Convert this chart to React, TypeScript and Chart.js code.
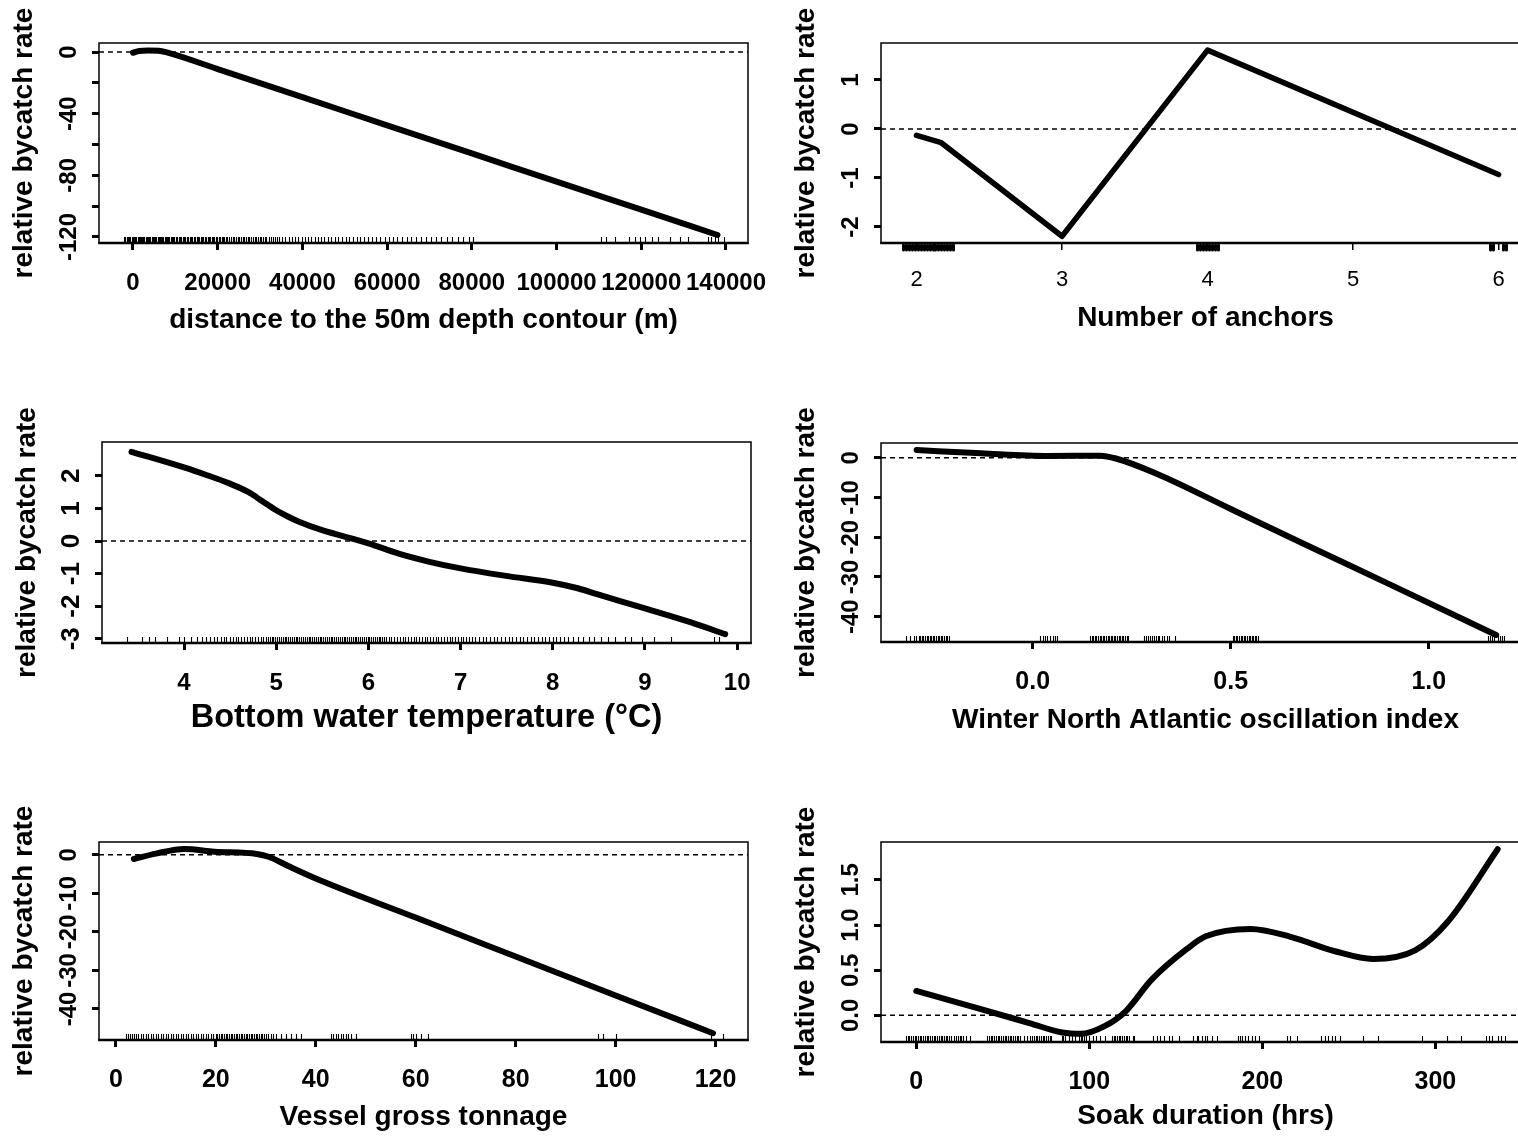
import React, { useEffect, useRef } from "react";
import { Chart, registerables } from "chart.js";

Chart.register(...registerables);

const FAMILY = '"Liberation Sans", Arial, Helvetica, sans-serif';
const Y_TITLE = "relative bycatch rate";

// ---------- Panel 1: distance to 50 m depth contour ----------
const distX = [0, 1500, 3500, 6000, 8600, 20000, 40000, 60000, 80000, 100000, 120000, 138000];
const distY = [-0.5, 0.6, 1.0, 0.8, -0.7, -11.1, -29.3, -47.6, -65.8, -84.1, -102.3, -118.7];
const distRug = [-2100, -1800, -1500, -1200, -900, -600, -300, 0, 250, 500, 800, 1100, 1350, 1600, 1900, 2200, 2450, 2700, 3000, 3300, 3550, 3800, 4100, 4400, 4650, 4900, 5200, 5500, 5800, 6050, 6300, 6600, 6900, 7200, 7450, 7700, 8000, 8300, 8600, 8900, 9200, 9500, 9800, 10100, 10450, 10800, 11100, 11400, 11750, 12100, 12400, 12700, 13050, 13400, 13700, 14000, 14350, 14700, 15000, 15300, 15650, 16000, 16300, 16600, 16950, 17300, 17600, 17900, 18250, 18600, 18900, 19200, 19550, 19900, 20200, 20550, 20900, 21250, 21600, 21950, 22300, 22700, 23100, 23500, 23900, 24300, 24700, 25100, 25500, 25900, 26300, 26700, 27100, 27500, 27900, 28300, 28700, 29100, 29500, 29900, 30300, 30700, 31100, 31500, 32000, 32500, 33000, 33500, 34000, 34500, 35200, 36000, 36800, 37500, 38300, 39000, 39800, 40600, 41300, 42100, 42900, 43600, 44400, 45200, 46000, 46800, 47600, 48400, 49300, 50200, 51000, 51900, 52800, 53700, 54600, 55500, 56400, 57400, 58400, 59400, 60400, 61400, 62400, 63500, 64600, 65700, 66800, 68000, 69200, 70400, 71600, 72800, 74100, 75400, 76700, 78000, 79300, 80200, 110400, 111600, 113900, 117100, 118500, 119800, 121000, 122600, 123900, 126800, 129200, 131000, 135700, 136500, 137400, 138200, 139500];
const distXTicks = [0, 20000, 40000, 60000, 80000, 100000, 120000, 140000];
const distXLabels = ["0", "20000", "40000", "60000", "80000", "100000", "120000", "140000"];
const distYTicks = [0, -20, -40, -60, -80, -100, -120];
const distYLabels = ["0", "", "-40", "", "-80", "", "-120"];

// ---------- Panel 2: number of anchors ----------
const anchX = [2, 2.17, 3, 4, 6];
const anchY = [-0.13, -0.28, -2.19, 1.61, -0.93];
const anchRug = [1.91, 1.93, 1.95, 1.97, 1.99, 2.01, 2.03, 2.05, 2.07, 2.09, 2.11, 2.13, 2.15, 2.17, 2.19, 2.21, 2.23, 2.25, 3.93, 3.95, 3.97, 3.99, 4.01, 4.03, 4.05, 4.07, 5.94, 5.96, 6.03, 6.05];
const anchXTicks = [2, 3, 4, 5, 6];
const anchXLabels = ["2", "3", "4", "5", "6"];
const anchYTicks = [1, 0, -1, -2];
const anchYLabels = ["1", "0", "-1", "-2"];

// ---------- Panel 3: bottom water temperature ----------
const tempX = [3.43, 4.0, 4.25, 4.49, 4.7, 4.85, 4.99, 5.12, 5.24, 5.49, 6.0, 6.32, 6.65, 7.0, 7.49, 8.0, 8.27, 8.48, 9.0, 9.5, 9.87];
const tempY = [2.74, 2.26, 2.02, 1.77, 1.5, 1.22, 0.96, 0.76, 0.6, 0.34, -0.07, -0.38, -0.63, -0.84, -1.07, -1.28, -1.45, -1.63, -2.07, -2.5, -2.86];
const tempRug = [3.38, 3.54, 3.62, 3.68, 3.81, 3.95, 4.0, 4.08, 4.14, 4.2, 4.24, 4.28, 4.32, 4.36, 4.4, 4.43, 4.46, 4.5, 4.53, 4.56, 4.59, 4.62, 4.65, 4.68, 4.71, 4.74, 4.77, 4.8, 4.83, 4.86, 4.89, 4.91, 4.93, 4.95, 4.97, 4.99, 5.01, 5.03, 5.05, 5.07, 5.09, 5.11, 5.13, 5.15, 5.17, 5.19, 5.21, 5.23, 5.25, 5.27, 5.29, 5.31, 5.33, 5.35, 5.37, 5.39, 5.41, 5.43, 5.45, 5.47, 5.49, 5.51, 5.53, 5.55, 5.57, 5.59, 5.61, 5.63, 5.65, 5.67, 5.69, 5.71, 5.73, 5.75, 5.77, 5.79, 5.81, 5.83, 5.85, 5.87, 5.89, 5.91, 5.93, 5.95, 5.97, 5.99, 6.01, 6.03, 6.05, 6.07, 6.09, 6.11, 6.13, 6.15, 6.17, 6.19, 6.22, 6.25, 6.28, 6.31, 6.34, 6.37, 6.4, 6.43, 6.46, 6.49, 6.52, 6.55, 6.58, 6.61, 6.64, 6.67, 6.7, 6.73, 6.76, 6.79, 6.82, 6.85, 6.88, 6.91, 6.94, 6.97, 7.0, 7.03, 7.06, 7.09, 7.12, 7.16, 7.2, 7.24, 7.28, 7.32, 7.36, 7.4, 7.44, 7.48, 7.52, 7.56, 7.6, 7.64, 7.68, 7.72, 7.76, 7.8, 7.84, 7.88, 7.92, 7.96, 8.0, 8.04, 8.08, 8.12, 8.17, 8.22, 8.27, 8.33, 8.39, 8.45, 8.52, 8.6, 8.68, 8.78, 8.85, 8.97, 9.1, 9.28, 9.75, 9.8];
const tempXTicks = [4, 5, 6, 7, 8, 9, 10];
const tempXLabels = ["4", "5", "6", "7", "8", "9", "10"];
const tempYTicks = [2, 1, 0, -1, -2, -3];
const tempYLabels = ["2", "1", "0", "-1", "-2", "-3"];

// ---------- Panel 4: winter NAO index ----------
const naoX = [-0.293, -0.13, 0.04, 0.17, 0.21, 0.31, 0.5, 0.7, 0.9, 1.17];
const naoY = [1.94, 1.1, 0.43, 0.5, -0.2, -3.9, -12.9, -22.4, -31.8, -44.6];
const naoRug = [-0.32, -0.31, -0.3, -0.294, -0.288, -0.284, -0.28, -0.276, -0.272, -0.268, -0.264, -0.26, -0.256, -0.252, -0.248, -0.244, -0.24, -0.236, -0.232, -0.228, -0.224, -0.22, -0.216, -0.212, 0.018, 0.026, 0.03, 0.036, 0.044, 0.05, 0.056, 0.062, 0.145, 0.149, 0.153, 0.157, 0.161, 0.165, 0.169, 0.173, 0.177, 0.181, 0.185, 0.189, 0.193, 0.197, 0.201, 0.205, 0.209, 0.213, 0.217, 0.221, 0.225, 0.229, 0.233, 0.237, 0.24, 0.28, 0.286, 0.292, 0.296, 0.3, 0.306, 0.312, 0.316, 0.32, 0.326, 0.332, 0.338, 0.345, 0.36, 0.505, 0.509, 0.513, 0.517, 0.521, 0.525, 0.529, 0.533, 0.537, 0.541, 0.545, 0.549, 0.553, 0.557, 0.561, 0.565, 0.57, 1.15, 1.155, 1.16, 1.165, 1.175, 1.18, 1.185, 1.19];
const naoXTicks = [0, 0.5, 1];
const naoXLabels = ["0.0", "0.5", "1.0"];
const naoYTicks = [0, -10, -20, -30, -40];
const naoYLabels = ["0", "-10", "-20", "-30", "-40"];

// ---------- Panel 5: vessel gross tonnage ----------
const tonX = [3.6, 8, 13.7, 19.7, 28.2, 30.7, 34.6, 40.6, 60, 80, 100, 119.5];
const tonY = [-1.1, 0.3, 1.5, 0.8, 0.2, -0.6, -3.0, -6.5, -16.3, -26.4, -36.5, -46.3];
const tonRug = [2, 2.4, 2.8, 3.2, 3.6, 4, 4.5, 5, 5.5, 6, 6.5, 7, 7.5, 8, 8.5, 9, 9.5, 10, 10.5, 11, 11.5, 12, 12.5, 13, 13.5, 14, 14.5, 15, 15.5, 16, 16.5, 17, 17.5, 18, 18.5, 19, 19.5, 20, 20.3, 20.6, 21, 21.3, 21.6, 22, 22.3, 22.6, 23, 23.3, 23.6, 24, 24.3, 24.6, 25, 25.3, 25.6, 26, 26.3, 26.6, 27, 27.3, 27.6, 28, 28.3, 28.6, 29, 29.3, 29.6, 30, 30.5, 31, 31.5, 32, 33, 34, 35, 36, 37, 43, 43.5, 44, 44.5, 45, 45.5, 46, 46.5, 47, 48, 59, 59.5, 60, 61, 62.5, 96.5, 97.5, 100, 119, 121.4];
const tonXTicks = [0, 20, 40, 60, 80, 100, 120];
const tonXLabels = ["0", "20", "40", "60", "80", "100", "120"];
const tonYTicks = [0, -10, -20, -30, -40];
const tonYLabels = ["0", "-10", "-20", "-30", "-40"];

// ---------- Panel 6: soak duration ----------
const soakX = [0, 35.3, 65.3, 84.3, 95.1, 108.8, 121, 136, 156.4, 167.3, 193.2, 216.3, 242, 264, 288.3, 307.3, 336];
const soakY = [0.27, 0.08, -0.085, -0.19, -0.205, -0.12, 0.045, 0.395, 0.735, 0.875, 0.957, 0.87, 0.71, 0.625, 0.72, 1.04, 1.84];
const soakRug = [-6, -5, -4, -3, -2, -1, 0, 1, 2, 3, 4, 5, 6, 7, 8, 9, 10, 11, 12, 13, 14, 15, 16, 17, 18, 19, 20, 22, 23, 24, 25, 26, 27, 29, 31, 41, 42, 43, 44, 45, 46, 47, 48, 49, 50, 51, 52, 53, 54, 55, 56, 57, 58, 59, 60, 62, 64, 66, 67, 68, 69, 70, 71, 72, 73, 74, 75, 76, 77, 78, 84, 85, 86, 88, 90, 92, 94, 95, 96, 97, 98, 100, 102, 104, 106, 109, 113, 114, 115, 116, 117, 118, 119, 120, 121, 122, 123, 125, 126, 137, 139, 141, 143, 146, 148, 152, 160, 162, 163, 165, 167, 168, 171, 174, 186, 187, 188, 190, 192, 194, 196, 198, 214, 216, 220, 234, 236, 238, 240, 242, 245, 258, 267, 292, 307, 315, 329, 331, 333, 336, 338, 340];
const soakXTicks = [0, 100, 200, 300];
const soakXLabels = ["0", "100", "200", "300"];
const soakYTicks = [0, 0.5, 1, 1.5];
const soakYLabels = ["0.0", "0.5", "1.0", "1.5"];

type Panel = {
  id: string;
  box: { L: number; T: number; R: number; B: number };
  padRight: number;
  xRange: [number, number];
  yRange: [number, number];
  xs: number[];
  ys: number[];
  rug: number[];
  xTicks: number[];
  xLabels: string[];
  yTicks: number[];
  yLabels: string[];
  xTitle: string;
  xTitleSize: number;
  xTitleBase: number;
  smooth: boolean;
  lineWidth: number;
  xTickBold: boolean;
  xTickSize: number;
  xTickWidth: number;
  yTickSize: number;
  rugDown: boolean;
};

const PANELS: Panel[] = [
  {
    id: "p1", box: { L: 98.5, T: 43, R: 748, B: 243 }, padRight: 45, xRange: [-8021, 145200], yRange: [-123.9, 5.84],
    xs: distX, ys: distY, rug: distRug, xTicks: distXTicks, xLabels: distXLabels, yTicks: distYTicks, yLabels: distYLabels,
    xTitle: "distance to the 50m depth contour (m)", xTitleSize: 28, xTitleBase: 87, smooth: true, lineWidth: 6,
    xTickBold: true, xTickSize: 24, xTickWidth: 3, yTickSize: 24, rugDown: false,
  },
  {
    id: "p2", box: { L: 881, T: 43, R: 1530, B: 243 }, padRight: 6, xRange: [1.756, 6.216], yRange: [-2.327, 1.755],
    xs: anchX, ys: anchY, rug: anchRug, xTicks: anchXTicks, xLabels: anchXLabels, yTicks: anchYTicks, yLabels: anchYLabels,
    xTitle: "Number of anchors", xTitleSize: 28, xTitleBase: 85, smooth: false, lineWidth: 5.5,
    xTickBold: false, xTickSize: 22, xTickWidth: 1.5, yTickSize: 24, rugDown: true,
  },
  {
    id: "p3", box: { L: 102, T: 442, R: 751, B: 643 }, padRight: 45, xRange: [3.11, 10.15], yRange: [-3.13, 3.04],
    xs: tempX, ys: tempY, rug: tempRug, xTicks: tempXTicks, xLabels: tempXLabels, yTicks: tempYTicks, yLabels: tempYLabels,
    xTitle: "Bottom water temperature (\u00B0C)", xTitleSize: 32.5, xTitleBase: 87, smooth: true, lineWidth: 6,
    xTickBold: true, xTickSize: 24, xTickWidth: 3, yTickSize: 26, rugDown: false,
  },
  {
    id: "p4", box: { L: 881, T: 443, R: 1530, B: 642 }, padRight: 6, xRange: [-0.383, 1.2555], yRange: [-46.36, 3.7],
    xs: naoX, ys: naoY, rug: naoRug, xTicks: naoXTicks, xLabels: naoXLabels, yTicks: naoYTicks, yLabels: naoYLabels,
    xTitle: "Winter North Atlantic oscillation index", xTitleSize: 28, xTitleBase: 89, smooth: true, lineWidth: 6,
    xTickBold: true, xTickSize: 25, xTickWidth: 3, yTickSize: 24, rugDown: false,
  },
  {
    id: "p5", box: { L: 98.5, T: 842, R: 748, B: 1040 }, padRight: 45, xRange: [-3.38, 126.5], yRange: [-48.05, 3.3],
    xs: tonX, ys: tonY, rug: tonRug, xTicks: tonXTicks, xLabels: tonXLabels, yTicks: tonYTicks, yLabels: tonYLabels,
    xTitle: "Vessel gross tonnage", xTitleSize: 28, xTitleBase: 87, smooth: true, lineWidth: 6,
    xTickBold: true, xTickSize: 25, xTickWidth: 3, yTickSize: 24, rugDown: false,
  },
  {
    id: "p6", box: { L: 881, T: 842, R: 1530, B: 1042 }, padRight: 6, xRange: [-20.4, 354.7], yRange: [-0.295, 1.92],
    xs: soakX, ys: soakY, rug: soakRug, xTicks: soakXTicks, xLabels: soakXLabels, yTicks: soakYTicks, yLabels: soakYLabels,
    xTitle: "Soak duration (hrs)", xTitleSize: 28, xTitleBase: 84, smooth: true, lineWidth: 6,
    xTickBold: true, xTickSize: 25, xTickWidth: 3, yTickSize: 24, rugDown: false,
  },
];

const Y_SCALE_W = 92;
const X_SCALE_H = 95;
const PAD_LEFT = 8;
const PAD_TOP = 43;
const TICK_LEN = 7;

function widestLabel(labels: string[], font: string): number {
  const c = document.createElement("canvas").getContext("2d");
  if (!c) return 0;
  c.font = font;
  let w = 0;
  for (const l of labels) w = Math.max(w, c.measureText(l).width);
  return w;
}

function geometry(p: Panel) {
  const left = p.box.L - Y_SCALE_W - PAD_LEFT;
  const top = p.box.T - PAD_TOP;
  const width = p.box.R + p.padRight - left;
  const height = p.box.B + X_SCALE_H - top;
  return { left, top, width, height };
}

function PanelChart({ p }: { p: Panel }) {
  const ref = useRef<HTMLCanvasElement>(null);
  const g = geometry(p);

  useEffect(() => {
    if (!ref.current) return;
    const yFont = `bold ${p.yTickSize}px ${FAMILY}`;
    const wy = widestLabel(p.yLabels, yFont);
    const yPad = 30 - TICK_LEN - wy / 2;
    const xTickLine = p.xTickSize * 1.2;
    const xPad = (p.xTickBold ? 40.5 : 37) - TICK_LEN - xTickLine / 2;
    const titleLine = p.xTitleSize * 1.2;
    const titleMiddle = p.xTitleBase - 0.35 * p.xTitleSize;
    const xTitlePadBottom = Math.max(0, X_SCALE_H - titleMiddle - titleLine / 2);
    const yTitleSize = 28;
    const yTitlePadTop = Math.max(0, Y_SCALE_W - 74.5 - (yTitleSize * 1.2) / 2);

    const rPlugin = {
      id: "rstyle_" + p.id,
      beforeDatasetsDraw(chart: any) {
        const { ctx, chartArea: a } = chart;
        const xs = chart.scales.x;
        const ysc = chart.scales.y;
        ctx.save();
        ctx.strokeStyle = "#000";
        // dashed zero reference line
        const y0 = ysc.getPixelForValue(0);
        ctx.setLineDash([5, 4]);
        ctx.lineWidth = 1.5;
        ctx.beginPath();
        ctx.moveTo(a.left, y0);
        ctx.lineTo(a.right, y0);
        ctx.stroke();
        ctx.setLineDash([]);
        // rug
        ctx.lineWidth = p.rugDown ? 3 : 1.1;
        ctx.lineCap = p.rugDown ? "round" : "butt";
        ctx.beginPath();
        for (const v of p.rug) {
          const px = Math.round(xs.getPixelForValue(v)) + 0.5;
          if (px < a.left || px > a.right) continue;
          if (p.rugDown) {
            ctx.moveTo(px, a.bottom + 2);
            ctx.lineTo(px, a.bottom + 7);
          } else {
            ctx.moveTo(px, a.bottom);
            ctx.lineTo(px, a.bottom - 6);
          }
        }
        ctx.stroke();
        ctx.lineCap = "butt";
        // plot box
        ctx.lineWidth = 1.5;
        ctx.strokeRect(a.left, a.top, a.right - a.left, a.bottom - a.top);
        ctx.lineWidth = 2.5;
        ctx.beginPath();
        ctx.moveTo(a.left - 0.75, a.bottom);
        ctx.lineTo(a.right + 0.75, a.bottom);
        ctx.stroke();
        ctx.restore();
      },
    };

    const chart = new Chart(ref.current, {
      type: "line",
      data: {
        datasets: [
          {
            data: p.xs.map((x, i) => ({ x, y: p.ys[i] })),
            borderColor: "#000",
            borderWidth: p.lineWidth,
            pointRadius: 0,
            tension: 0,
            cubicInterpolationMode: p.smooth ? "monotone" : "default",
            borderCapStyle: "round",
            borderJoinStyle: "round",
            fill: false,
          },
        ],
      },
      options: {
        responsive: false,
        animation: false,
        devicePixelRatio: 1,
        events: [],
        layout: { padding: { left: PAD_LEFT, top: PAD_TOP, right: p.padRight, bottom: 0 } },
        plugins: { legend: { display: false }, tooltip: { enabled: false } },
        scales: {
          x: {
            type: "linear",
            position: "bottom",
            min: p.xRange[0],
            max: p.xRange[1],
            afterBuildTicks: (s: any) => {
              s.ticks = p.xTicks.map((v) => ({ value: v }));
            },
            afterFit: (s: any) => {
              s.height = X_SCALE_H;
              s.paddingLeft = 0;
              s.paddingRight = 0;
            },
            border: { display: false },
            grid: {
              display: true,
              drawOnChartArea: false,
              drawTicks: true,
              tickLength: TICK_LEN,
              tickWidth: p.xTickWidth,
              tickColor: "#000",
              lineWidth: p.xTickWidth,
              color: "#000",
            },
            ticks: {
              autoSkip: false,
              minRotation: 0,
              maxRotation: 0,
              padding: xPad,
              color: "#000",
              font: { family: FAMILY, size: p.xTickSize, weight: p.xTickBold ? "bold" : "normal" },
              callback: (v: any) => {
                const i = p.xTicks.indexOf(Number(v));
                return i >= 0 ? p.xLabels[i] : "";
              },
            },
            title: {
              display: true,
              text: p.xTitle,
              color: "#000",
              font: { family: FAMILY, size: p.xTitleSize, weight: "bold" },
              padding: { top: 0, bottom: xTitlePadBottom },
            },
          },
          y: {
            type: "linear",
            position: "left",
            min: p.yRange[0],
            max: p.yRange[1],
            afterBuildTicks: (s: any) => {
              s.ticks = p.yTicks.map((v) => ({ value: v }));
            },
            afterFit: (s: any) => {
              s.width = Y_SCALE_W;
              s.paddingTop = 0;
              s.paddingBottom = 0;
            },
            border: { display: false },
            grid: {
              display: true,
              drawOnChartArea: false,
              drawTicks: true,
              tickLength: TICK_LEN,
              tickWidth: 3,
              tickColor: "#000",
              lineWidth: 3,
              color: "#000",
            },
            ticks: {
              autoSkip: false,
              minRotation: 90,
              maxRotation: 90,
              crossAlign: "center",
              padding: yPad,
              color: "#000",
              font: { family: FAMILY, size: p.yTickSize, weight: "bold" },
              callback: (v: any) => {
                const i = p.yTicks.indexOf(Number(v));
                return i >= 0 ? p.yLabels[i] : "";
              },
            },
            title: {
              display: true,
              text: Y_TITLE,
              color: "#000",
              font: { family: FAMILY, size: yTitleSize, weight: "bold" },
              padding: { top: yTitlePadTop, bottom: 0 },
            },
          },
        },
      },
      plugins: [rPlugin],
    } as any);
    return () => chart.destroy();
  }, [p]);

  return (
    <canvas
      ref={ref}
      width={g.width}
      height={g.height}
      style={{ position: "absolute", left: g.left, top: g.top, width: g.width, height: g.height }}
    />
  );
}

export default function App() {
  return (
    <div
      style={{
        position: "fixed",
        left: 0,
        top: 0,
        width: 1518,
        height: 1138,
        overflow: "hidden",
        background: "#fff",
      }}
    >
      {PANELS.map((p) => (
        <PanelChart key={p.id} p={p} />
      ))}
    </div>
  );
}
